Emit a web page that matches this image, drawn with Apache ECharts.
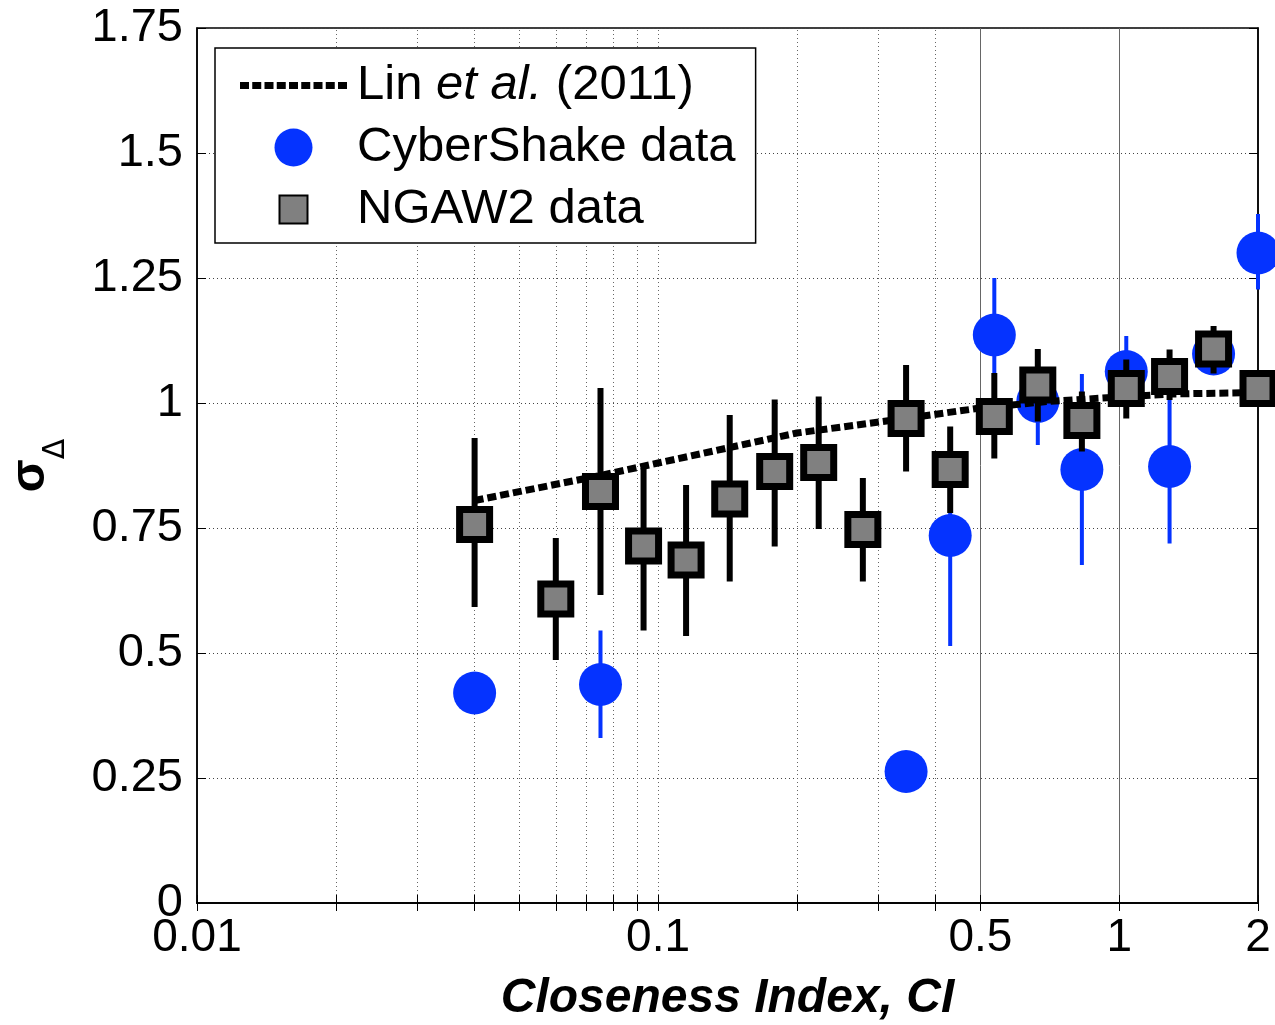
<!DOCTYPE html>
<html>
<head>
<meta charset="utf-8">
<script src="https://cdn.jsdelivr.net/npm/echarts@6/dist/echarts.min.js"></script>
<style>
  html, body { margin: 0; padding: 0; background: #fff; }
  #chart { width: 1275px; height: 1025px; }
</style>
</head>
<body>
<div id="chart"></div>
<script>
// ---- data ----
// NGAW2 bins: closeness index, sigma ratio and its error bar
const NGA_CI = [0.04, 0.06, 0.075, 0.093, 0.115, 0.143, 0.179, 0.223, 0.278, 0.345, 0.43, 0.536, 0.666, 0.83, 1.036, 1.286, 1.602, 2.0];
const NGA_SIGMA = [0.757, 0.608, 0.823, 0.714, 0.686, 0.808, 0.863, 0.881, 0.747, 0.969, 0.867, 0.973, 1.036, 0.965, 1.029, 1.053, 1.108, 1.029];
const NGA_LOW = [0.592, 0.486, 0.616, 0.545, 0.534, 0.643, 0.713, 0.748, 0.643, 0.863, 0.78, 0.889, 0.963, 0.903, 0.969, 1.006, 1.059, 1.0];
const NGA_HIGH = [0.93, 0.73, 1.03, 0.87, 0.836, 0.976, 1.007, 1.013, 0.85, 1.076, 0.953, 1.06, 1.108, 1.023, 1.087, 1.107, 1.154, 1.06];

// CyberShake bins
const CS_CI = [0.04, 0.075, 0.345, 0.43, 0.536, 0.666, 0.83, 1.036, 1.286, 1.602, 2.0];
const CS_SIGMA = [0.42, 0.437, 0.263, 0.735, 1.136, 1.003, 0.867, 1.063, 0.873, 1.098, 1.30];
const CS_LOW = [0.42, 0.33, 0.263, 0.514, 1.025, 0.916, 0.676, 0.99, 0.719, 1.06, 1.227];
const CS_HIGH = [0.42, 0.545, 0.263, 0.95, 1.25, 1.09, 1.058, 1.134, 1.03, 1.14, 1.378];

// Lin et al. (2011) model curve
const LIN_CI = [0.04, 0.075, 0.1, 0.2, 0.35, 0.5, 0.7, 1.0, 1.3, 2.0];
const LIN_SIGMA = [0.805, 0.855, 0.88, 0.94, 0.97, 0.99, 1.003, 1.012, 1.018, 1.021];

// axis ticks / grid
const X_LABELS = [0.01, 0.1, 0.5, 1, 2];
const X_MINOR = [0.02, 0.03, 0.04, 0.05, 0.06, 0.07, 0.08, 0.09, 0.1, 0.2, 0.3, 0.4];
const X_MAJOR = [0.5, 1];
const X_TICKS = [0.01, 0.02, 0.03, 0.04, 0.05, 0.06, 0.07, 0.08, 0.09, 0.1, 0.2, 0.3, 0.4, 0.5, 1, 2];

const FONT = "'Liberation Sans', Arial, sans-serif";
const BLUE = "#0533ff";

const zip = (a, b, c) => a.map((v, i) => (c ? [v, b[i], c[i]] : [v, b[i]]));

// legend icon for the dotted model line: a row of small blocks
function dottedIcon(n, w, gap, h) {
  let p = "path://";
  for (let i = 0; i < n; i++) {
    const x = i * (w + gap);
    p += `M${x},0L${x + w},0L${x + w},${h}L${x},${h}Z`;
  }
  return p;
}

// vertical error bar drawn through the axis scales
function errBar(color, width) {
  return function (params, api) {
    const p1 = api.coord([api.value(0), api.value(1)]);
    const p2 = api.coord([api.value(0), api.value(2)]);
    return {
      type: "line",
      shape: { x1: p1[0], y1: p1[1], x2: p2[0], y2: p2[1] },
      style: { stroke: color, lineWidth: width },
    };
  };
}

const chart = echarts.init(document.getElementById("chart"));

chart.setOption({
  animation: false,
  textStyle: { fontFamily: FONT },
  grid: {
    left: 197, right: 17, top: 28, bottom: 122,
    outerBoundsMode: "none",
    show: true, borderColor: "#000", borderWidth: 1.5, backgroundColor: "#fff",
  },
  legend: {
    orient: "vertical",
    left: 215, top: 48,
    padding: [13, 20, 9, 25],
    backgroundColor: "#fff",
    borderColor: "#000",
    borderWidth: 1.5,
    borderRadius: 0,
    itemWidth: 107,
    itemHeight: 38,
    itemGap: 13,
    selectedMode: false,
    data: [
      {
        name: "Lin et al. (2011)",
        icon: dottedIcon(9, 9, 3.25, 7),
        itemStyle: { color: "#000", borderWidth: 0 },
      },
      { name: "CyberShake data" },
      {
        name: "NGAW2 data",
        icon: "path://M0,0M38,38M5,5L33,5L33,33L5,33Z",
        itemStyle: { borderWidth: 2, borderColor: "#000", color: "#808080" },
      },
    ],
    formatter: (name) => (name === "Lin et al. (2011)" ? "Lin {i|et al.} (2011)" : name),
    textStyle: {
      fontFamily: FONT, fontSize: 49, color: "#000", lineHeight: 48,
      padding: [0, 0, 0, 5],
      rich: { i: { fontFamily: FONT, fontSize: 49, fontStyle: "italic", color: "#000" } },
    },
  },
  xAxis: [
    {
      type: "log", logBase: 10, min: 0.01, max: 2,
      name: "Closeness Index, CI",
      nameLocation: "middle", nameGap: 72,
      nameTextStyle: { fontFamily: FONT, fontSize: 48, fontWeight: "bold", fontStyle: "italic", color: "#000" },
      axisLine: { show: true, lineStyle: { color: "#000", width: 1.5 } },
      axisTick: { show: true, inside: true, length: 8, customValues: X_TICKS, lineStyle: { color: "#000" } },
      axisLabel: {
        customValues: X_LABELS, fontFamily: FONT, fontSize: 46, color: "#000", margin: 12,
        formatter: (v) => String(+Number(v).toPrecision(4)),
      },
      splitLine: { show: false },
    },
    {
      type: "log", logBase: 10, min: 0.01, max: 2, position: "top",
      axisLine: { show: true, lineStyle: { color: "#000", width: 1.5 } },
      axisTick: { show: true, inside: true, length: 8, customValues: X_TICKS, lineStyle: { color: "#000" } },
      axisLabel: { show: false },
      splitLine: { show: false },
    },
  ],
  yAxis: [
    {
      type: "value", min: 0, max: 1.75, interval: 0.25,
      name: "{s|σ}{d|Δ}",
      nameLocation: "middle", nameGap: 126, nameRotate: 90,
      nameTextStyle: {
        rich: {
          s: {
            fontFamily: FONT, fontSize: 48, fontWeight: "bold", color: "#000",
            verticalAlign: "bottom", padding: [0, 0, 16, 0],
          },
          d: { fontFamily: "'DejaVu Sans', sans-serif", fontSize: 30, color: "#000", verticalAlign: "bottom" },
        },
      },
      axisLine: { show: true, lineStyle: { color: "#000", width: 1.5 } },
      axisTick: { show: true, inside: true, length: 9, lineStyle: { color: "#000" } },
      axisLabel: { fontFamily: FONT, fontSize: 47, color: "#000", margin: 14 },
      splitLine: { show: true, lineStyle: { color: "#444", width: 1, type: [1, 3] } },
    },
    {
      type: "value", min: 0, max: 1.75, interval: 0.25, position: "right",
      axisLine: { show: true, lineStyle: { color: "#000", width: 1.5 } },
      axisTick: { show: true, inside: true, length: 9, lineStyle: { color: "#000" } },
      axisLabel: { show: false },
      splitLine: { show: false },
    },
  ],
  series: [
    {
      // vertical grid lines of the log axis
      name: "grid",
      type: "line",
      data: [],
      z: 0,
      silent: true,
      markLine: {
        z: 0,
        silent: true,
        symbol: "none",
        label: { show: false },
        emphasis: { disabled: true },
        data: X_MINOR.map((v) => ({ xAxis: v, lineStyle: { color: "#666", width: 1, type: [1, 3] } }))
          .concat(X_MAJOR.map((v) => ({ xAxis: v, lineStyle: { color: "#666", width: 1, type: "solid" } }))),
      },
    },
    {
      name: "csErr",
      type: "custom",
      renderItem: errBar(BLUE, 4),
      data: zip(CS_CI, CS_LOW, CS_HIGH),
      encode: { x: 0, y: [1, 2] },
      z: 1,
      silent: true,
    },
    {
      name: "CyberShake data",
      type: "scatter",
      data: zip(CS_CI, CS_SIGMA),
      symbol: "circle",
      symbolSize: 43,
      itemStyle: { color: BLUE, opacity: 1 },
      clip: false,
      z: 2,
    },
    {
      name: "Lin et al. (2011)",
      type: "line",
      data: zip(LIN_CI, LIN_SIGMA),
      symbol: "none",
      lineStyle: { color: "#000", width: 7, type: [9, 4] },
      itemStyle: { color: "#000" },
      z: 3,
    },
    {
      name: "ngaErr",
      type: "custom",
      renderItem: errBar("#000", 6),
      data: zip(NGA_CI, NGA_LOW, NGA_HIGH),
      encode: { x: 0, y: [1, 2] },
      z: 4,
      silent: true,
    },
    {
      name: "NGAW2 data",
      type: "scatter",
      data: zip(NGA_CI, NGA_SIGMA),
      symbol: "rect",
      symbolSize: 30,
      itemStyle: { color: "#808080", borderColor: "#000", borderWidth: 7, opacity: 1 },
      clip: false,
      z: 5,
    },
  ],
});
</script>
</body>
</html>
